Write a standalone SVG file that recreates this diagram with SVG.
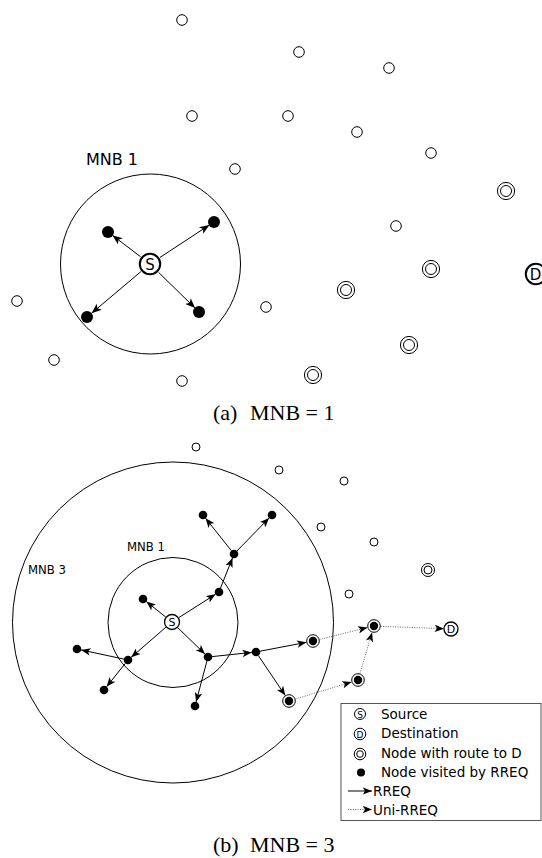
<svg xmlns="http://www.w3.org/2000/svg" width="542" height="858" viewBox="0 0 542 858">
<style>
.o{fill:#fff;stroke:#000;stroke-width:1}
.f{fill:#000;stroke:none}
.rng{fill:none;stroke:#000;stroke-width:1}
.src{fill:#fff;stroke:#000;stroke-width:2}
.src2{fill:#fff;stroke:#000;stroke-width:1.3}
.lbl{font-family:"DejaVu Sans",sans-serif;fill:#000}
.cap{font-family:"Liberation Serif",serif;font-size:22px;fill:#000}
.arT{stroke:#000;stroke-width:1;fill:none;marker-end:url(#ahT)}
.arB{stroke:#000;stroke-width:1;fill:none;marker-end:url(#ahB)}
.dt{stroke:#666;stroke-width:1;fill:none;stroke-dasharray:1 1.4;marker-end:url(#ahB)}
</style>
<defs>
<marker id="ahT" markerUnits="userSpaceOnUse" viewBox="0 0 10 8" refX="10" refY="4" markerWidth="11" markerHeight="8" orient="auto">
<path d="M0,0 L10,4 L0,8 L2.5,4 z" fill="#000"/>
</marker>
<marker id="ahB" markerUnits="userSpaceOnUse" viewBox="0 0 10 8" refX="10" refY="4" markerWidth="9.5" markerHeight="7.5" orient="auto">
<path d="M0,0 L10,4 L0,8 L2.5,4 z" fill="#000"/>
</marker>
</defs>

<!-- (a) MNB = 1 -->
<g id="a-range">
<circle class="rng" cx="150.5" cy="264" r="90"/>
<text class="lbl" x="86" y="165" font-size="16">MNB 1</text>
</g>
<g id="a-open">
<circle class="o" cx="182" cy="20" r="5.3"/>
<circle class="o" cx="192" cy="116" r="5.3"/>
<circle class="o" cx="235" cy="169" r="5.3"/>
<circle class="o" cx="299" cy="52" r="5.3"/>
<circle class="o" cx="389" cy="68" r="5.3"/>
<circle class="o" cx="288" cy="116" r="5.3"/>
<circle class="o" cx="357" cy="132" r="5.3"/>
<circle class="o" cx="431" cy="153" r="5.3"/>
<circle class="o" cx="396" cy="226" r="5.3"/>
<circle class="o" cx="17" cy="301" r="5.3"/>
<circle class="o" cx="54" cy="360" r="5.3"/>
<circle class="o" cx="182" cy="381" r="5.3"/>
<circle class="o" cx="266" cy="307" r="5.3"/>
</g>
<g id="a-route">
<g><circle class="o" cx="506" cy="191" r="8.6"/><circle class="o" cx="506" cy="191" r="5.5"/></g>
<g><circle class="o" cx="431" cy="269" r="8.6"/><circle class="o" cx="431" cy="269" r="5.5"/></g>
<g><circle class="o" cx="346" cy="290" r="8.6"/><circle class="o" cx="346" cy="290" r="5.5"/></g>
<g><circle class="o" cx="409" cy="345" r="8.6"/><circle class="o" cx="409" cy="345" r="5.5"/></g>
<g><circle class="o" cx="313" cy="375" r="8.6"/><circle class="o" cx="313" cy="375" r="5.5"/></g>
</g>
<g id="a-visited">
<circle class="f" cx="108" cy="232" r="6"/>
<circle class="f" cx="214" cy="222" r="6"/>
<circle class="f" cx="87" cy="317" r="6"/>
<circle class="f" cx="199" cy="312" r="6"/>
</g>
<g id="a-S">
<circle class="src" cx="150" cy="264" r="10.2"/>
<text class="lbl" x="150" y="269.5" font-size="15" text-anchor="middle">S</text>
</g>
<g id="a-D">
<circle class="src" cx="536" cy="274" r="10.2"/>
<text class="lbl" x="535.5" y="279.5" font-size="15" text-anchor="middle">D</text>
</g>
<g id="a-connectors">
<line class="arT" x1="140.5" y1="256.7" x2="112.4" y2="235.3"/>
<line class="arT" x1="160" y1="257.4" x2="209.4" y2="225"/>
<line class="arT" x1="140.8" y1="271.7" x2="91.6" y2="313.2"/>
<line class="arT" x1="158.6" y1="272.4" x2="195.1" y2="308.1"/>
</g>
<text class="cap" x="213" y="420">(a)</text>
<text class="cap" x="250" y="420">MNB = 1</text>

<!-- (b) MNB = 3 -->
<g id="b-ranges">
<circle class="rng" cx="173" cy="622.5" r="160.5"/>
<circle class="rng" cx="173" cy="622.5" r="65"/>
<text class="lbl" x="127" y="551" font-size="11.7">MNB 1</text>
<text class="lbl" x="28" y="574" font-size="11.7">MNB 3</text>
</g>
<g id="b-open">
<circle class="o" cx="196" cy="447" r="4"/>
<circle class="o" cx="279" cy="470" r="4"/>
<circle class="o" cx="344" cy="481" r="4"/>
<circle class="o" cx="321" cy="527" r="4"/>
<circle class="o" cx="374" cy="542" r="4"/>
<circle class="o" cx="349" cy="594" r="4"/>
<g><circle class="o" cx="428" cy="570" r="6.5"/><circle class="o" cx="428" cy="570" r="4"/></g>
</g>
<g id="b-visited">
<circle class="f" cx="203" cy="515" r="4.3"/>
<circle class="f" cx="272" cy="515" r="4.3"/>
<circle class="f" cx="234" cy="554" r="4.3"/>
<circle class="f" cx="219" cy="592" r="4.3"/>
<circle class="f" cx="143" cy="599" r="4.3"/>
<circle class="f" cx="77" cy="649" r="4.3"/>
<circle class="f" cx="128" cy="660" r="4.3"/>
<circle class="f" cx="104" cy="690" r="4.3"/>
<circle class="f" cx="208" cy="657" r="4.3"/>
<circle class="f" cx="195" cy="706" r="4.3"/>
<circle class="f" cx="256" cy="652" r="4.3"/>
</g>
<g id="b-route-visited">
<g><circle class="o" cx="313" cy="641" r="6.3"/><circle class="f" cx="313" cy="641" r="4.2"/></g>
<g><circle class="o" cx="374" cy="626" r="6.3"/><circle class="f" cx="374" cy="626" r="4.2"/></g>
<g><circle class="o" cx="358" cy="680" r="6.3"/><circle class="f" cx="358" cy="680" r="4.2"/></g>
<g><circle class="o" cx="289" cy="701" r="6.3"/><circle class="f" cx="289" cy="701" r="4.2"/></g>
</g>
<g id="b-S">
<circle class="src2" cx="172" cy="622" r="7.5"/>
<text class="lbl" x="172" y="626" font-size="11" text-anchor="middle">S</text>
</g>
<g id="b-D">
<circle class="src2" cx="451" cy="629" r="7"/>
<text class="lbl" x="451" y="633" font-size="11" text-anchor="middle">D</text>
</g>
<g id="b-connectors">
<line class="arB" x1="165.7" y1="617" x2="146.3" y2="601.6"/>
<line class="arB" x1="178.7" y1="617.7" x2="215.5" y2="594.3"/>
<line class="arB" x1="165.9" y1="627.2" x2="131.2" y2="657.3"/>
<line class="arB" x1="177.7" y1="627.6" x2="205" y2="654.1"/>
<line class="arB" x1="220.5" y1="588.1" x2="232.5" y2="557.9"/>
<line class="arB" x1="231.4" y1="550.7" x2="205.6" y2="518.3"/>
<line class="arB" x1="236.9" y1="551" x2="269.1" y2="518"/>
<line class="arB" x1="123.9" y1="659.1" x2="81.1" y2="649.9"/>
<line class="arB" x1="125.4" y1="663.3" x2="106.6" y2="686.7"/>
<line class="arB" x1="212.2" y1="656.6" x2="251.8" y2="652.4"/>
<line class="arB" x1="206.9" y1="661.1" x2="196.1" y2="701.9"/>
<line class="arB" x1="260.1" y1="651.2" x2="306.4" y2="642.3"/>
<line class="arB" x1="258.3" y1="655.5" x2="285.3" y2="695.6"/>
<line class="dt" x1="319.5" y1="639.4" x2="367.5" y2="627.6"/>
<line class="dt" x1="380.7" y1="626.3" x2="444" y2="628.7"/>
<line class="dt" x1="295.4" y1="699" x2="351.6" y2="682"/>
<line class="dt" x1="359.9" y1="673.6" x2="372.1" y2="632.4"/>
</g>
<g id="legend">
<rect x="341" y="703.5" width="200" height="117" fill="#fff" stroke="#555" stroke-width="1"/>
<circle class="o" cx="360" cy="714" r="5.5"/>
<text class="lbl" x="360" y="717.5" font-size="9" text-anchor="middle">S</text>
<circle class="o" cx="360" cy="734" r="5.8"/>
<text class="lbl" x="360" y="737.5" font-size="9" text-anchor="middle">D</text>
<circle class="o" cx="360" cy="754" r="5.8"/>
<circle class="o" cx="360" cy="754" r="3.3"/>
<circle class="f" cx="361" cy="772.5" r="4"/>
<line class="arB" x1="348" y1="791" x2="372" y2="791"/>
<line class="dt" x1="348" y1="809.5" x2="372" y2="809.5"/>
<g class="lbl" font-size="13.5">
<text x="381" y="718.5">Source</text>
<text x="381" y="738">Destination</text>
<text x="381" y="757.5">Node with route to D</text>
<text x="381" y="777">Node visited by RREQ</text>
<text x="373" y="796">RREQ</text>
<text x="373" y="815">Uni-RREQ</text>
</g>
</g>
<text class="cap" x="213" y="852">(b)</text>
<text class="cap" x="250" y="852">MNB = 3</text>
</svg>
